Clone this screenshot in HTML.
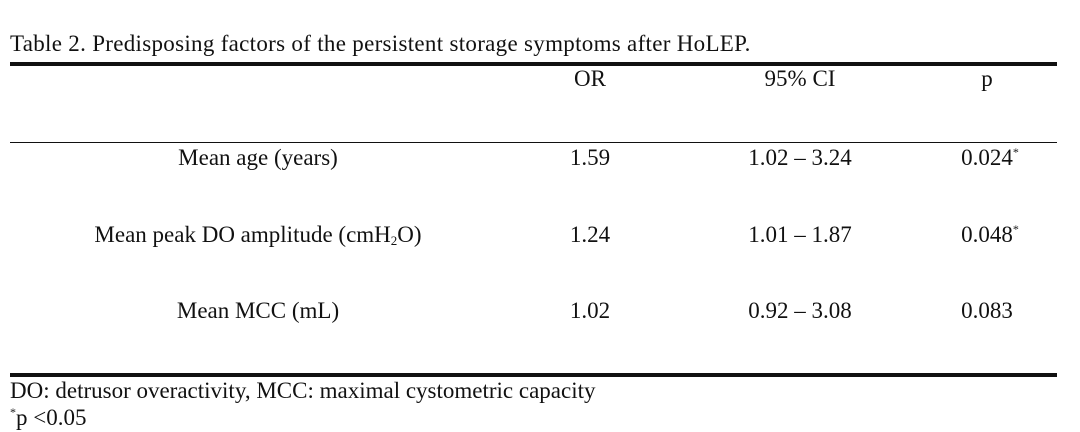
<!DOCTYPE html>
<html><head><meta charset="utf-8"><style>
body{margin:0;width:1080px;height:432px;background:#fff;overflow:hidden;font-family:"Liberation Serif",serif;color:#111;position:relative}
.t{position:absolute;font-size:23px;line-height:23px;white-space:nowrap}
.c{transform:translateX(-50%)}
.l{position:absolute;left:10px;width:1047px;background:#111}
sup{font-size:12px;vertical-align:9px;line-height:0}
sub{font-size:13px;vertical-align:-3px;line-height:0}
</style></head><body>
<div class="t" style="left:10px;top:32px;letter-spacing:0.3px">Table 2. Predisposing factors of the persistent storage symptoms after HoLEP.</div>
<div class="l" style="top:62px;height:4px"></div>
<div class="t c" style="left:590px;top:67px">OR</div>
<div class="t c" style="left:800px;top:67px">95% CI</div>
<div class="t c" style="left:987px;top:67px">p</div>
<div class="l" style="top:142px;height:1px"></div>
<div class="t c" style="left:258px;top:146px">Mean age (years)</div>
<div class="t c" style="left:590px;top:146px">1.59</div>
<div class="t c" style="left:800px;top:146px">1.02 – 3.24</div>
<div class="t c" style="left:990px;top:146px">0.024<sup>*</sup></div>
<div class="t c" style="left:258px;top:223px">Mean peak DO amplitude (cmH<sub>2</sub>O)</div>
<div class="t c" style="left:590px;top:223px">1.24</div>
<div class="t c" style="left:800px;top:223px">1.01 – 1.87</div>
<div class="t c" style="left:990px;top:223px">0.048<sup>*</sup></div>
<div class="t c" style="left:258px;top:299px">Mean MCC (mL)</div>
<div class="t c" style="left:590px;top:299px">1.02</div>
<div class="t c" style="left:800px;top:299px">0.92 – 3.08</div>
<div class="t c" style="left:987px;top:299px">0.083</div>
<div class="l" style="top:373px;height:4px"></div>
<div class="t" style="left:10px;top:379px">DO: detrusor overactivity, MCC: maximal cystometric capacity</div>
<div class="t" style="left:10px;top:406px"><sup>*</sup>p &lt;0.05</div>
</body></html>
